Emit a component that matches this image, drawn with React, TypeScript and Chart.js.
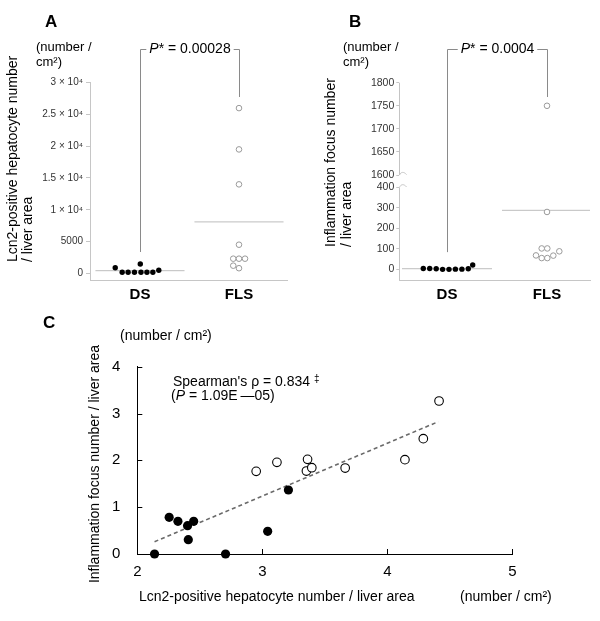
import React, { useEffect, useRef } from 'react';
import { Chart, registerables } from 'chart.js';

Chart.register(...registerables);

const FONT = "'Liberation Sans', Arial, Helvetica, sans-serif";

// ---------------- Panel A : Lcn2-positive hepatocytes ----------------
const groups = ['DS', 'FLS'];
const lcn2DS = [880, 160, 160, 160, 160, 160, 160, 1460, 470];
const lcn2DSOffset = [-0.25, -0.18, -0.12, -0.056, 0.01, 0.07, 0.13, 0.003, 0.19];
const lcn2FLS = [26000, 19500, 14000, 4500, 2300, 2300, 2300, 1200, 800];
const lcn2FLSOffset = [0, 0, 0, 0, -0.058, 0, 0.061, -0.058, 0];
const lcn2Means = [410, 8090];
const lcn2Ticks = [0, 5000, 10000, 15000, 20000, 25000, 30000];
const lcn2TickLabels = ['0', '5000', '1 × 10⁴', '1.5 × 10⁴', '2 × 10⁴', '2.5 × 10⁴', '3 × 10⁴'];
const lcn2Range = [-1055, 30000];
const lcn2Bracket = [3350, 35300, 27750]; // DS end, top, FLS end
const lcn2PValue = '0.00028';

// ---------------- Panel B : inflammation foci (broken axis) ----------------
const inflDS = [4, 4, 3, 0, 0, 1, 1, 3, 21];
const inflDSOffset = [-0.237, -0.173, -0.108, -0.044, 0.02, 0.084, 0.149, 0.213, 0.257];
const inflFLS = [1750, 280, 102, 102, 68, 55, 55, 67, 88];
const inflFLSOffset = [0, 0, -0.053, 0.003, -0.11, -0.053, 0.003, 0.063, 0.123];
const inflMeans = [3, 288];
const inflTicks = [0, 100, 200, 300, 400, 1600, 1650, 1700, 1750, 1800];
const inflTickLabels = ['0', '100', '200', '300', '400', '1600', '1650', '1700', '1750', '1800'];
const inflRange = [-52, 1800];
const inflBreak = [400, 1600];
const inflBracket = [84, 1873, 1769];
const inflPValue = '0.0004';

// ---------------- Panel C : correlation ----------------
const dsX = [2.138, 2.255, 2.325, 2.402, 2.451, 2.408, 2.706, 3.043, 3.209];
const dsY = [0, 0.783, 0.698, 0.605, 0.698, 0.306, 0, 0.484, 1.367];
const flsX = [2.951, 3.117, 3.362, 3.353, 3.396, 3.663, 4.141, 4.288, 4.414];
const flsY = [1.765, 1.957, 2.021, 1.772, 1.843, 1.836, 2.014, 2.463, 3.267];
const trendX = [2.138, 4.408];
const trendY = [0.263, 2.826];
const corrXTicks = [2, 3, 4, 5];
const corrYTicks = [0, 1, 2, 3, 4];

// broken-axis mapping for panel B (lower segment in native units, upper segment stretched)
const BREAK_T = 460;
const UPPER_K = 2.254;
const inflToT = (v: number) => (v <= inflBreak[0] ? v : BREAK_T + (v - inflBreak[1]) * UPPER_K);
const identity = (v: number) => v;

type StripSpec = {
  ds: number[]; dsOff: number[]; fls: number[]; flsOff: number[];
  means: number[]; ticks: number[]; tickLabels: string[];
  range: number[]; toY: (v: number) => number;
  xMin: number; xMax: number; yWidth: number;
  tickFont: number; tickLen: number; tickPad: number;
  padding: { left: number; top: number; right: number; bottom: number };
  bracket: number[]; pValue: string; broken?: number[];
};

function bracketPlugin(s: StripSpec) {
  return {
    id: 'pbracket',
    afterDraw(chart: any) {
      const { ctx, scales } = chart;
      const x = scales.x, y = scales.y;
      const xa = Math.round(x.getPixelForValue(1)) + 0.5;
      const xb = Math.round(x.getPixelForValue(2)) + 0.5;
      const yA = y.getPixelForValue(s.toY(s.bracket[0]));
      const yTop = Math.round(y.getPixelForValue(s.toY(s.bracket[1]))) + 0.5;
      const yB = y.getPixelForValue(s.toY(s.bracket[2]));
      ctx.save();
      ctx.font = `italic 14px ${FONT}`;
      const wP = ctx.measureText('P').width;
      ctx.font = `14px ${FONT}`;
      const rest = '* = ' + s.pValue;
      const wR = ctx.measureText(rest).width;
      const w = wP + wR;
      const cx = (xa + xb) / 2;
      const start = cx - w / 2;
      ctx.strokeStyle = '#8a8a8a';
      ctx.lineWidth = 1;
      ctx.beginPath();
      ctx.moveTo(xa, yA);
      ctx.lineTo(xa, yTop);
      ctx.lineTo(start - 3, yTop);
      ctx.moveTo(start + w + 3, yTop);
      ctx.lineTo(xb, yTop);
      ctx.lineTo(xb, yB);
      ctx.stroke();
      ctx.fillStyle = '#000';
      ctx.textBaseline = 'middle';
      ctx.textAlign = 'left';
      ctx.font = `italic 14px ${FONT}`;
      ctx.fillText('P', start, yTop);
      ctx.font = `14px ${FONT}`;
      ctx.fillText(rest, start + wP, yTop);
      ctx.restore();
    },
  };
}

function brokenAxisPlugin(s: StripSpec) {
  return {
    id: 'brokenaxis',
    afterDraw(chart: any) {
      if (!s.broken) return;
      const { ctx, chartArea, scales } = chart;
      const y = scales.y;
      const x = Math.round(chartArea.left) + 0.5;
      const yLo = y.getPixelForValue(s.toY(s.broken[0]));
      const yHi = y.getPixelForValue(s.toY(s.broken[1]));
      ctx.save();
      ctx.strokeStyle = '#c4c4c4';
      ctx.lineWidth = 1;
      ctx.beginPath();
      ctx.moveTo(x, chartArea.top);
      ctx.lineTo(x, yHi);
      ctx.bezierCurveTo(x + 1.5, yHi - 3.5, x + 4.5, yHi - 3.5, x + 7, yHi - 0.5);
      ctx.moveTo(x, chartArea.bottom);
      ctx.lineTo(x, yLo);
      ctx.bezierCurveTo(x + 1.5, yLo - 3.5, x + 4.5, yLo - 3.5, x + 7, yLo - 0.5);
      ctx.stroke();
      ctx.restore();
    },
  };
}

function stripConfig(s: StripSpec): any {
  const pts = (vals: number[], offs: number[], g: number) =>
    vals.map((v, i) => ({ x: g + offs[i], y: s.toY(v) }));
  const meanLine = (g: number) => [
    { x: g - 0.45, y: s.toY(s.means[g - 1]) },
    { x: g + 0.45, y: s.toY(s.means[g - 1]) },
  ];
  const axisColor = '#c6c6c6';
  return {
    type: 'scatter',
    data: {
      datasets: [
        {
          label: groups[0], data: pts(s.ds, s.dsOff, 1), pointRadius: 2.7,
          pointBackgroundColor: '#000', pointBorderColor: '#000', pointBorderWidth: 0, order: 0, clip: false,
        },
        {
          label: groups[1], data: pts(s.fls, s.flsOff, 2), pointRadius: 2.8,
          pointBackgroundColor: '#fff', pointBorderColor: '#9a9a9a', pointBorderWidth: 1, order: 0, clip: false,
        },
        {
          type: 'line', label: 'DS mean', data: meanLine(1), borderColor: '#bdbdbd',
          borderWidth: 1, pointRadius: 0, order: 2,
        },
        {
          type: 'line', label: 'FLS mean', data: meanLine(2), borderColor: '#bdbdbd',
          borderWidth: 1, pointRadius: 0, order: 2,
        },
      ],
    },
    options: {
      animation: false,
      responsive: false,
      events: [],
      layout: { padding: s.padding },
      plugins: { legend: { display: false }, tooltip: { enabled: false } },
      scales: {
        x: {
          type: 'linear', min: s.xMin, max: s.xMax,
          afterBuildTicks: (sc: any) => { sc.ticks = [{ value: 1 }, { value: 2 }]; },
          ticks: {
            callback: (v: number) => groups[Math.round(v) - 1] ?? '',
            font: { family: FONT, size: 15, weight: 'bold' }, color: '#000',
            padding: 6, maxRotation: 0, minRotation: 0, autoSkip: false,
          },
          grid: { display: false, drawTicks: false },
          border: { display: true, color: axisColor, width: 1 },
          afterFit: (sc: any) => { sc.height = 25; },
        },
        y: {
          type: 'linear', min: s.toY(s.range[0]), max: s.toY(s.range[1]),
          afterBuildTicks: (sc: any) => { sc.ticks = s.ticks.map((v) => ({ value: s.toY(v) })); },
          ticks: {
            callback: (_v: number, i: number) => s.tickLabels[i],
            font: { family: FONT, size: s.tickFont }, color: '#333',
            padding: s.tickPad, autoSkip: false,
          },
          grid: { display: true, drawOnChartArea: false, drawTicks: true, tickLength: s.tickLen, color: axisColor },
          border: { display: !s.broken, color: axisColor, width: 1 },
          afterFit: (sc: any) => { sc.width = s.yWidth; },
        },
      },
    },
    plugins: [bracketPlugin(s), brokenAxisPlugin(s)],
  };
}

const specA: StripSpec = {
  ds: lcn2DS, dsOff: lcn2DSOffset, fls: lcn2FLS, flsOff: lcn2FLSOffset,
  means: lcn2Means, ticks: lcn2Ticks, tickLabels: lcn2TickLabels, range: lcn2Range,
  toY: identity, xMin: 0.495, xMax: 2.485, yWidth: 90, tickFont: 10, tickLen: 4, tickPad: 3,
  padding: { left: 0, top: 82.7, right: 13, bottom: 5 },
  bracket: lcn2Bracket, pValue: lcn2PValue,
};

const specB: StripSpec = {
  ds: inflDS, dsOff: inflDSOffset, fls: inflFLS, flsOff: inflFLSOffset,
  means: inflMeans, ticks: inflTicks, tickLabels: inflTickLabels, range: inflRange,
  toY: inflToT, xMin: 0.523, xMax: 2.43, yWidth: 99.3, tickFont: 10.5, tickLen: 3, tickPad: 2,
  padding: { left: 0, top: 82.7, right: 10, bottom: 5 },
  bracket: inflBracket, pValue: inflPValue, broken: inflBreak,
};

const innerTicksPlugin = {
  id: 'innerticks',
  afterDraw(chart: any) {
    const { ctx, chartArea, scales } = chart;
    const x = scales.x, y = scales.y;
    ctx.save();
    ctx.strokeStyle = '#000';
    ctx.lineWidth = 1;
    ctx.beginPath();
    x.ticks.forEach((t: any) => {
      if (t.value === x.min) return;
      const px = Math.round(x.getPixelForValue(t.value)) + 0.5;
      ctx.moveTo(px, chartArea.bottom);
      ctx.lineTo(px, chartArea.bottom - 5);
    });
    y.ticks.forEach((t: any) => {
      if (t.value === y.min) return;
      const py = Math.round(y.getPixelForValue(t.value)) + 0.5;
      ctx.moveTo(chartArea.left, py);
      ctx.lineTo(chartArea.left + 5, py);
    });
    ctx.stroke();
    ctx.restore();
  },
};

function corrConfig(): any {
  return {
    type: 'scatter',
    data: {
      datasets: [
        {
          label: 'DS', data: dsX.map((x, i) => ({ x, y: dsY[i] })), pointRadius: 4.6,
          pointBackgroundColor: '#000', pointBorderColor: '#000', pointBorderWidth: 0, order: 0, clip: false,
        },
        {
          label: 'FLS', data: flsX.map((x, i) => ({ x, y: flsY[i] })), pointRadius: 4.3,
          pointBackgroundColor: '#fff', pointBorderColor: '#000', pointBorderWidth: 1.1, order: 0, clip: false,
        },
        {
          type: 'line', label: 'trend', data: trendX.map((x, i) => ({ x, y: trendY[i] })),
          borderColor: '#6a6a6a', borderWidth: 1.6, borderDash: [4, 3], pointRadius: 0, order: 2,
        },
      ],
    },
    options: {
      animation: false,
      responsive: false,
      events: [],
      layout: { padding: { left: 0, top: 66.7, right: 87.7, bottom: 27 } },
      plugins: { legend: { display: false }, tooltip: { enabled: false } },
      scales: {
        x: {
          type: 'linear', min: corrXTicks[0], max: corrXTicks[corrXTicks.length - 1],
          afterBuildTicks: (sc: any) => { sc.ticks = corrXTicks.map((v) => ({ value: v })); },
          ticks: { font: { family: FONT, size: 15 }, color: '#000', padding: 9, maxRotation: 0 },
          grid: { display: false, drawTicks: false },
          border: { display: true, color: '#000', width: 1 },
          afterFit: (sc: any) => { sc.height = 40; },
        },
        y: {
          type: 'linear', min: corrYTicks[0], max: corrYTicks[corrYTicks.length - 1],
          afterBuildTicks: (sc: any) => { sc.ticks = corrYTicks.map((v) => ({ value: v })); },
          ticks: { font: { family: FONT, size: 15 }, color: '#000', padding: 17 },
          grid: { display: false, drawTicks: false },
          border: { display: true, color: '#000', width: 1 },
          afterFit: (sc: any) => { sc.width = 137.3; },
        },
      },
    },
    plugins: [innerTicksPlugin],
  };
}

function Txt(props: { x: number; y: number; size?: number; bold?: boolean; children: any }) {
  const size = props.size ?? 14;
  const lh = Math.round(size * 1.2);
  return (
    <div
      style={{
        position: 'absolute', left: props.x, top: Math.round(props.y - lh / 2), fontSize: size,
        lineHeight: `${lh}px`, fontWeight: props.bold ? 'bold' : 'normal', whiteSpace: 'nowrap',
      }}
    >
      {props.children}
    </div>
  );
}

function VText(props: { cx: number; cy: number; w: number; lines: string[]; align: 'left' | 'center'; size?: number; lh?: number }) {
  const size = props.size ?? 14;
  const lh = props.lh ?? 16;
  const h = props.lines.length * lh;
  return (
    <div
      style={{
        position: 'absolute', left: Math.round(props.cx - props.w / 2), top: Math.round(props.cy - h / 2),
        width: props.w, height: h, transform: 'rotate(-90deg)', transformOrigin: 'center',
        textAlign: props.align, fontSize: size, lineHeight: `${lh}px`, whiteSpace: 'nowrap', color: '#000',
      }}
    >
      {props.lines.map((l, i) => (
        <div key={i}>{l}</div>
      ))}
    </div>
  );
}

export default function App() {
  const refA = useRef<HTMLCanvasElement>(null);
  const refB = useRef<HTMLCanvasElement>(null);
  const refC = useRef<HTMLCanvasElement>(null);

  useEffect(() => {
    const charts = [
      new Chart(refA.current as HTMLCanvasElement, stripConfig(specA)),
      new Chart(refB.current as HTMLCanvasElement, stripConfig(specB)),
      new Chart(refC.current as HTMLCanvasElement, corrConfig()),
    ];
    return () => charts.forEach((c) => c.destroy());
  }, []);

  return (
    <div
      style={{
        position: 'absolute', left: 0, top: 0, width: 600, height: 621, background: '#fff',
        fontFamily: FONT, color: '#000', overflow: 'hidden',
      }}
    >
      <canvas ref={refA} width={300} height={310} style={{ position: 'absolute', left: 0, top: 0 }} />
      <canvas ref={refB} width={300} height={310} style={{ position: 'absolute', left: 300, top: 0 }} />
      <canvas ref={refC} width={600} height={321} style={{ position: 'absolute', left: 0, top: 300 }} />

      {/* Panel A texts */}
      <Txt x={45} y={22} size={17} bold>A</Txt>
      <Txt x={36} y={47} size={13}>(number /</Txt>
      <Txt x={36} y={62} size={13}>cm²)</Txt>
      <VText cx={20} cy={157} w={210} align="left" lines={['Lcn2-positive hepatocyte number', '/ liver area']} lh={15} />

      {/* Panel B texts */}
      <Txt x={349} y={22} size={17} bold>B</Txt>
      <Txt x={343} y={47} size={13}>(number /</Txt>
      <Txt x={343} y={62} size={13}>cm²)</Txt>
      <VText cx={338} cy={147} w={200} align="left" lines={['Inflammation focus number', '/ liver area']} lh={16} />

      {/* Panel C texts */}
      <Txt x={43} y={323} size={17} bold>C</Txt>
      <Txt x={120} y={335} size={14}>(number / cm²)</Txt>
      <VText cx={94} cy={464} w={280} align="center" lines={['Inflammation focus number / liver area']} />
      <Txt x={173} y={378} size={14}>
        Spearman's ρ = 0.834 <span style={{ fontSize: 10, verticalAlign: 4 }}>‡</span>
      </Txt>
      <Txt x={171} y={395} size={14}>
        (<i>P</i> = 1.09E{'\u2009'}—05)
      </Txt>
      <Txt x={139} y={596} size={14}>Lcn2-positive hepatocyte number / liver area</Txt>
      <Txt x={460} y={596} size={14}>(number / cm²)</Txt>
    </div>
  );
}
